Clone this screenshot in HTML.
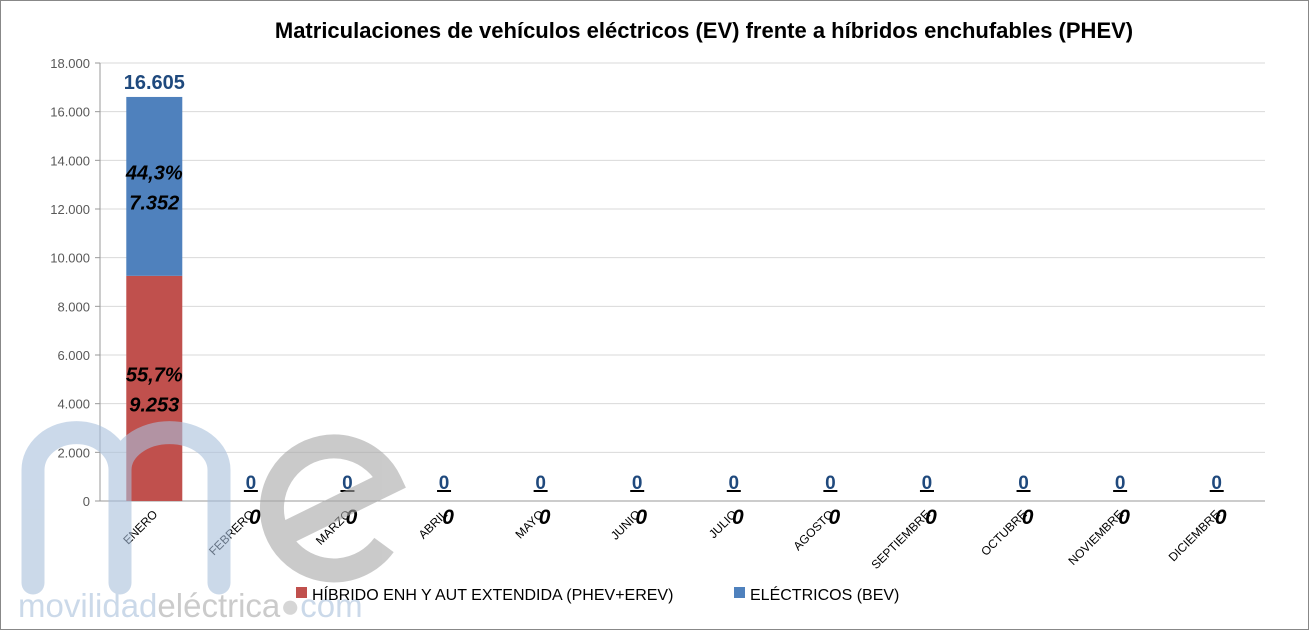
<!DOCTYPE html>
<html><head><meta charset="utf-8"><style>
body{margin:0;background:#fff;font-family:"Liberation Sans",sans-serif}
#wrap{position:relative;width:1309px;height:630px;overflow:hidden}
</style></head><body>
<div id="wrap">
<svg id="chart" width="1309" height="630" xmlns="http://www.w3.org/2000/svg">
<rect x="0.5" y="0.5" width="1308" height="629" fill="#fff" stroke="#888"/>
<text x="704" y="38" text-anchor="middle" font-size="22" font-weight="bold" fill="#000">Matriculaciones de vehículos eléctricos (EV) frente a híbridos enchufables (PHEV)</text>
<g id="grid"></g><g id="bars"></g><g id="labels"></g>
<g opacity="0.6">
<path d="M33 583 V470 A43 37 0 0 1 120 470 V583 M120 470 A49 37 0 0 1 219 470 V583" fill="none" stroke="#a9c0dc" stroke-width="23" stroke-linecap="round"/>
<path d="M282 535 L390 482 A62 62 0 1 0 384 545" fill="none" stroke="#a8a8a8" stroke-width="24"/>
<text x="18" y="617" font-size="33" fill="#a9c0dc">movilidad<tspan fill="#aaa">eléctrica</tspan><tspan fill="#bbb">●</tspan>com</text>
</g>
<g>
<rect x="296" y="587" width="11" height="11" fill="#c0504d"/>
<text x="312" y="600" font-size="16" fill="#000">HÍBRIDO ENH Y AUT EXTENDIDA (PHEV+EREV)</text>
<rect x="734" y="587" width="11" height="11" fill="#4f81bd"/>
<text x="750" y="600" font-size="16" fill="#000">ELÉCTRICOS (BEV)</text>
</g>
</svg>
</div>
<script>
const categories=["ENERO","FEBRERO","MARZO","ABRIL","MAYO","JUNIO","JULIO","AGOSTO","SEPTIEMBRE","OCTUBRE","NOVIEMBRE","DICIEMBRE"];
const phev=[9253,0,0,0,0,0,0,0,0,0,0,0];
const bev=[7352,0,0,0,0,0,0,0,0,0,0,0];
const yTicks=[0,2000,4000,6000,8000,10000,12000,14000,16000,18000];
const yTickLabels=["0","2.000","4.000","6.000","8.000","10.000","12.000","14.000","16.000","18.000"];
const NS="http://www.w3.org/2000/svg";
const L=106,R=1265,T=63,B=501,yMax=18000;
const band=(R-L)/categories.length;
function y(v){return B-(v/yMax)*(B-T);}
function xc(i){return L+band*(i+0.5);}
function fmt(n){return n.toLocaleString('de-DE');}
function mk(tag,attrs,parent,txt){const e=document.createElementNS(NS,tag);for(const k in attrs)e.setAttribute(k,attrs[k]);if(txt!==undefined)e.textContent=txt;parent.appendChild(e);return e;}
const grid=document.getElementById('grid'),bars=document.getElementById('bars'),labels=document.getElementById('labels');
yTicks.forEach((t,i)=>{
  const l=mk('line',{x1:100,x2:R,y1:y(t),y2:y(t),stroke:t===0?'#999':'#d9d9d9'},grid);
  
  
  const tk=mk('line',{x1:95,x2:100,y1:y(t),y2:y(t),stroke:'#999'},grid);
  
  
  const tx=mk('text',{x:90,y:y(t)+5,'text-anchor':'end','font-size':13,fill:'#595959'},grid,yTickLabels[i]);
  
  
});
const ax=mk('line',{x1:100,x2:100,y1:T,y2:B,stroke:'#999'},grid);


categories.forEach((c,i)=>{
  const cx=xc(i),w=56,tot=phev[i]+bev[i];
  const r1=mk('rect',{x:cx-w/2,y:y(phev[i]),width:w,height:B-y(phev[i]),fill:'#c0504d'},bars);
  
  
  const r2=mk('rect',{x:cx-w/2,y:y(tot),width:w,height:y(phev[i])-y(tot),fill:'#4f81bd'},bars);
  
  
  const cl=mk('text',{transform:`translate(${cx+4},${B+14}) rotate(-45)`,'text-anchor':'end','font-size':12,fill:'#000'},labels,c);
  
  
  if(tot>0){
    const pp=(phev[i]/tot*100).toFixed(1).replace('.',','),bp=(bev[i]/tot*100).toFixed(1).replace('.',',');
    const my=(y(phev[i])+B)/2,by=(y(tot)+y(phev[i]))/2;
    [[my,pp,phev[i],'phev'],[by,bp,bev[i],'bev']].forEach(a=>{
      const t1=mk('text',{x:cx,y:a[0]-7,'text-anchor':'middle','font-size':20,'font-weight':'bold','font-style':'italic',fill:'#000'},labels,a[1]+'%');
      
      
      const t2=mk('text',{x:cx,y:a[0]+23,'text-anchor':'middle','font-size':20,'font-weight':'bold','font-style':'italic',fill:'#000'},labels,fmt(a[2]));
      
      
    });
    const tt=mk('text',{x:cx,y:y(tot)-8,'text-anchor':'middle','font-size':20,'font-weight':'bold',fill:'#1f497d'},labels,fmt(tot));
    
    
  }else{
    const z1=mk('text',{x:cx,y:B-12,'text-anchor':'middle','font-size':19,'font-weight':'bold',fill:'#1f497d','text-decoration':'underline'},labels,fmt(tot));
    
    
    const ul=mk('line',{x1:cx-7,x2:cx+7,y1:B-10,y2:B-10,stroke:'#000','stroke-width':2},labels);
    
    
    const z2=mk('text',{x:cx+4,y:B+23,'text-anchor':'middle','font-size':21,'font-weight':'bold','font-style':'italic',fill:'#000'},labels,fmt(phev[i]));
    
    
  }
});
</script>
</body></html>
